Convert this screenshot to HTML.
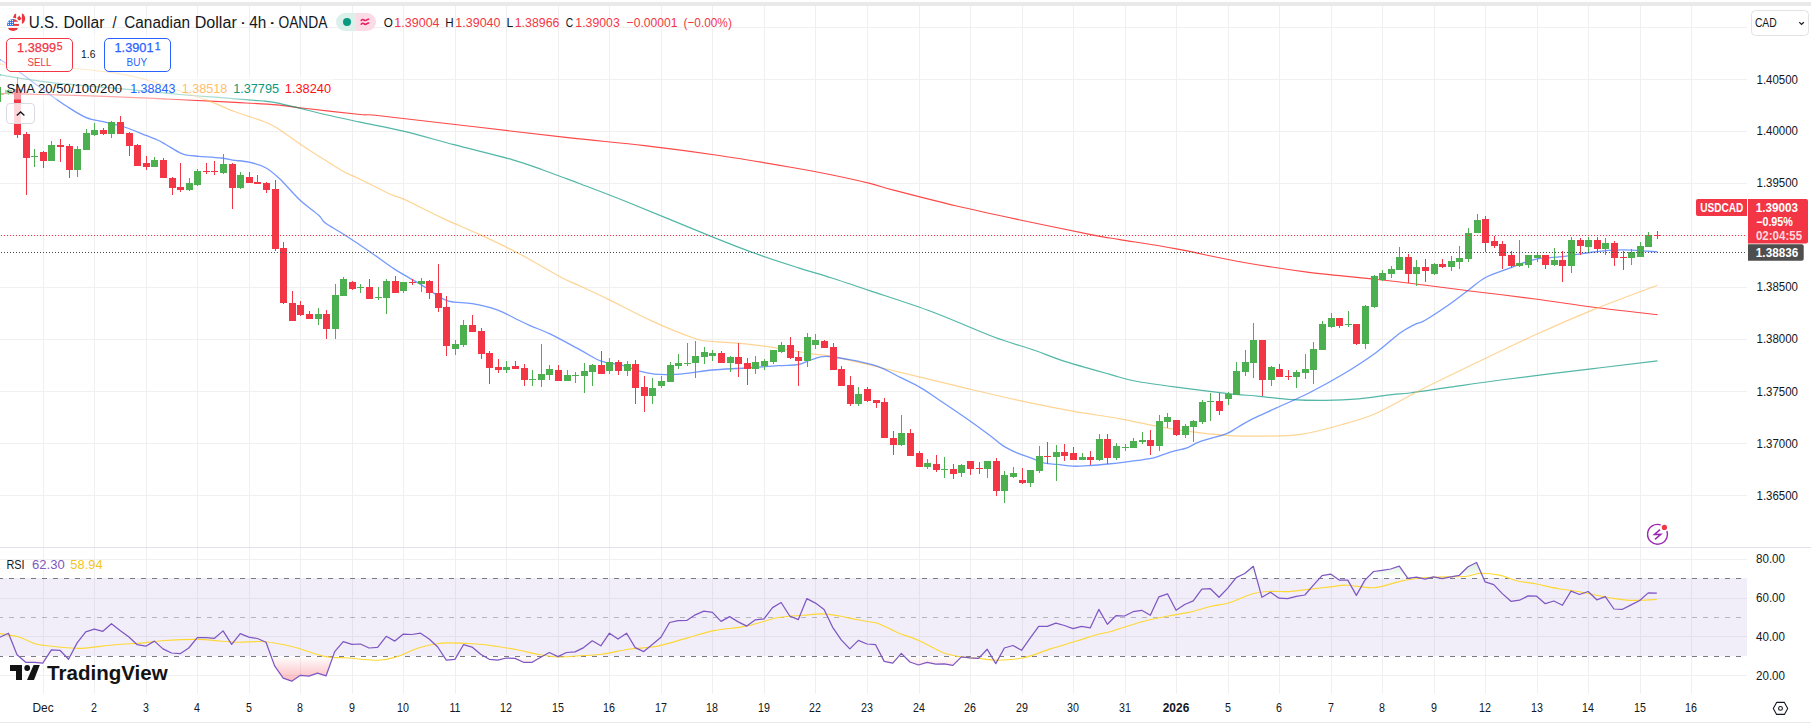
<!DOCTYPE html>
<html><head><meta charset="utf-8"><title>USDCAD</title>
<style>
html,body{margin:0;padding:0;background:#fff;}
body{width:1811px;height:724px;overflow:hidden;position:relative;font-family:"Liberation Sans",sans-serif;}
svg{position:absolute;left:0;top:0;}
</style></head><body>
<svg width="1811" height="724" viewBox="0 0 1811 724">
<rect x="0" y="0" width="1811" height="724" fill="#fff"/>
<rect x="0" y="2" width="1811" height="4" fill="#e9e9e9"/>
<g shape-rendering="crispEdges">
<rect x="43" y="6" width="1" height="541" fill="#f0f0f1"/>
<rect x="43" y="548" width="1" height="146" fill="#f0f0f1"/>
<rect x="94" y="6" width="1" height="541" fill="#f0f0f1"/>
<rect x="94" y="548" width="1" height="146" fill="#f0f0f1"/>
<rect x="146" y="6" width="1" height="541" fill="#f0f0f1"/>
<rect x="146" y="548" width="1" height="146" fill="#f0f0f1"/>
<rect x="197" y="6" width="1" height="541" fill="#f0f0f1"/>
<rect x="197" y="548" width="1" height="146" fill="#f0f0f1"/>
<rect x="249" y="6" width="1" height="541" fill="#f0f0f1"/>
<rect x="249" y="548" width="1" height="146" fill="#f0f0f1"/>
<rect x="300" y="6" width="1" height="541" fill="#f0f0f1"/>
<rect x="300" y="548" width="1" height="146" fill="#f0f0f1"/>
<rect x="352" y="6" width="1" height="541" fill="#f0f0f1"/>
<rect x="352" y="548" width="1" height="146" fill="#f0f0f1"/>
<rect x="403" y="6" width="1" height="541" fill="#f0f0f1"/>
<rect x="403" y="548" width="1" height="146" fill="#f0f0f1"/>
<rect x="455" y="6" width="1" height="541" fill="#f0f0f1"/>
<rect x="455" y="548" width="1" height="146" fill="#f0f0f1"/>
<rect x="506" y="6" width="1" height="541" fill="#f0f0f1"/>
<rect x="506" y="548" width="1" height="146" fill="#f0f0f1"/>
<rect x="558" y="6" width="1" height="541" fill="#f0f0f1"/>
<rect x="558" y="548" width="1" height="146" fill="#f0f0f1"/>
<rect x="609" y="6" width="1" height="541" fill="#f0f0f1"/>
<rect x="609" y="548" width="1" height="146" fill="#f0f0f1"/>
<rect x="661" y="6" width="1" height="541" fill="#f0f0f1"/>
<rect x="661" y="548" width="1" height="146" fill="#f0f0f1"/>
<rect x="712" y="6" width="1" height="541" fill="#f0f0f1"/>
<rect x="712" y="548" width="1" height="146" fill="#f0f0f1"/>
<rect x="764" y="6" width="1" height="541" fill="#f0f0f1"/>
<rect x="764" y="548" width="1" height="146" fill="#f0f0f1"/>
<rect x="815" y="6" width="1" height="541" fill="#f0f0f1"/>
<rect x="815" y="548" width="1" height="146" fill="#f0f0f1"/>
<rect x="867" y="6" width="1" height="541" fill="#f0f0f1"/>
<rect x="867" y="548" width="1" height="146" fill="#f0f0f1"/>
<rect x="919" y="6" width="1" height="541" fill="#f0f0f1"/>
<rect x="919" y="548" width="1" height="146" fill="#f0f0f1"/>
<rect x="970" y="6" width="1" height="541" fill="#f0f0f1"/>
<rect x="970" y="548" width="1" height="146" fill="#f0f0f1"/>
<rect x="1022" y="6" width="1" height="541" fill="#f0f0f1"/>
<rect x="1022" y="548" width="1" height="146" fill="#f0f0f1"/>
<rect x="1073" y="6" width="1" height="541" fill="#f0f0f1"/>
<rect x="1073" y="548" width="1" height="146" fill="#f0f0f1"/>
<rect x="1125" y="6" width="1" height="541" fill="#f0f0f1"/>
<rect x="1125" y="548" width="1" height="146" fill="#f0f0f1"/>
<rect x="1176" y="6" width="1" height="541" fill="#f0f0f1"/>
<rect x="1176" y="548" width="1" height="146" fill="#f0f0f1"/>
<rect x="1228" y="6" width="1" height="541" fill="#f0f0f1"/>
<rect x="1228" y="548" width="1" height="146" fill="#f0f0f1"/>
<rect x="1279" y="6" width="1" height="541" fill="#f0f0f1"/>
<rect x="1279" y="548" width="1" height="146" fill="#f0f0f1"/>
<rect x="1331" y="6" width="1" height="541" fill="#f0f0f1"/>
<rect x="1331" y="548" width="1" height="146" fill="#f0f0f1"/>
<rect x="1382" y="6" width="1" height="541" fill="#f0f0f1"/>
<rect x="1382" y="548" width="1" height="146" fill="#f0f0f1"/>
<rect x="1434" y="6" width="1" height="541" fill="#f0f0f1"/>
<rect x="1434" y="548" width="1" height="146" fill="#f0f0f1"/>
<rect x="1485" y="6" width="1" height="541" fill="#f0f0f1"/>
<rect x="1485" y="548" width="1" height="146" fill="#f0f0f1"/>
<rect x="1537" y="6" width="1" height="541" fill="#f0f0f1"/>
<rect x="1537" y="548" width="1" height="146" fill="#f0f0f1"/>
<rect x="1588" y="6" width="1" height="541" fill="#f0f0f1"/>
<rect x="1588" y="548" width="1" height="146" fill="#f0f0f1"/>
<rect x="1640" y="6" width="1" height="541" fill="#f0f0f1"/>
<rect x="1640" y="548" width="1" height="146" fill="#f0f0f1"/>
<rect x="1691" y="6" width="1" height="541" fill="#f0f0f1"/>
<rect x="1691" y="548" width="1" height="146" fill="#f0f0f1"/>
<rect x="0" y="27" width="1747" height="1" fill="#f0f0f1"/>
<rect x="0" y="79" width="1747" height="1" fill="#f0f0f1"/>
<rect x="0" y="131" width="1747" height="1" fill="#f0f0f1"/>
<rect x="0" y="183" width="1747" height="1" fill="#f0f0f1"/>
<rect x="0" y="235" width="1747" height="1" fill="#f0f0f1"/>
<rect x="0" y="287" width="1747" height="1" fill="#f0f0f1"/>
<rect x="0" y="339" width="1747" height="1" fill="#f0f0f1"/>
<rect x="0" y="391" width="1747" height="1" fill="#f0f0f1"/>
<rect x="0" y="443" width="1747" height="1" fill="#f0f0f1"/>
<rect x="0" y="495" width="1747" height="1" fill="#f0f0f1"/>
<rect x="0" y="559" width="1747" height="1" fill="#f0f0f1"/>
<rect x="0" y="598" width="1747" height="1" fill="#f0f0f1"/>
<rect x="0" y="636" width="1747" height="1" fill="#f0f0f1"/>
<rect x="0" y="675" width="1747" height="1" fill="#f0f0f1"/>
</g>
<rect x="0" y="547" width="1811" height="1" fill="#e0e3eb"/>
<rect x="0" y="722" width="1811" height="1" fill="#e9e9e9"/>
<rect x="0" y="578" width="1747" height="78" fill="#7e57c2" fill-opacity="0.1"/>
<defs><clipPath id="below30"><rect x="0" y="656.5" width="1747" height="60"/></clipPath><clipPath id="above70"><rect x="0" y="500" width="1747" height="78"/></clipPath><linearGradient id="gRed" x1="0" y1="656" x2="0" y2="714" gradientUnits="userSpaceOnUse"><stop offset="0" stop-color="#f23645" stop-opacity="0"/><stop offset="1" stop-color="#f23645" stop-opacity="0.8"/></linearGradient><linearGradient id="gGreen" x1="0" y1="578" x2="0" y2="520" gradientUnits="userSpaceOnUse"><stop offset="0" stop-color="#4caf50" stop-opacity="0"/><stop offset="1" stop-color="#4caf50" stop-opacity="0.8"/></linearGradient></defs>
<polygon points="-0.14,656.00 -0.14,637.20 8.45,633.20 17.03,654.80 25.62,662.30 34.20,662.30 42.79,663.20 51.37,649.80 59.96,650.30 68.54,659.30 77.13,642.90 85.72,631.80 94.30,629.10 102.89,631.30 111.47,623.70 120.06,630.40 128.64,636.80 137.23,644.70 145.81,646.20 154.40,641.10 162.98,648.90 171.57,653.00 180.16,653.70 188.74,648.00 197.33,637.60 205.91,637.70 214.50,638.30 223.08,630.90 231.67,644.40 240.25,633.60 248.84,637.20 257.42,638.50 266.01,642.20 274.60,665.90 283.18,678.10 291.77,681.20 300.35,675.30 308.94,676.20 317.52,673.10 326.11,675.80 334.69,651.60 343.28,641.70 351.86,644.40 360.45,644.00 369.04,648.00 377.62,647.40 386.21,636.30 394.79,641.10 403.38,634.10 411.96,634.50 420.55,633.20 429.13,639.00 437.72,647.00 446.31,660.20 454.89,659.40 463.48,644.70 472.06,647.10 480.65,654.30 489.23,659.30 497.82,660.20 506.40,658.00 514.99,658.40 523.57,662.30 532.16,662.30 540.75,657.30 549.33,652.50 557.92,656.60 566.50,652.50 575.09,651.90 583.67,647.60 592.26,640.80 600.84,645.80 609.43,633.20 618.01,639.00 626.60,633.20 635.19,647.60 643.77,651.60 652.36,644.40 660.94,637.20 669.53,622.50 678.11,620.70 686.70,620.50 695.28,614.80 703.87,611.20 712.45,612.40 721.04,621.40 729.63,616.60 738.21,621.90 746.80,626.10 755.38,619.80 763.97,618.90 772.55,607.60 781.14,602.50 789.72,616.00 798.31,619.60 806.89,598.60 815.48,603.10 824.07,609.40 832.65,627.30 841.24,639.90 849.82,648.90 858.41,640.40 866.99,644.00 875.58,644.70 884.16,661.40 892.75,663.20 901.34,653.40 909.92,662.00 918.51,665.00 927.09,662.30 935.68,664.10 944.26,663.80 952.85,665.40 961.43,656.90 970.02,657.80 978.60,658.40 987.19,649.20 995.78,663.60 1004.36,648.00 1012.95,645.50 1021.53,650.30 1030.12,638.10 1038.70,626.40 1047.29,626.40 1055.87,623.20 1064.46,625.50 1073.04,628.60 1081.63,626.40 1090.22,627.90 1098.80,609.40 1107.39,624.30 1115.97,615.70 1124.56,616.00 1133.14,611.70 1141.73,610.30 1150.31,615.30 1158.90,596.80 1167.48,593.80 1176.07,610.30 1184.66,604.50 1193.24,600.90 1201.83,589.10 1210.41,588.70 1219.00,597.30 1227.58,588.40 1236.17,577.60 1244.75,573.50 1253.34,566.30 1261.92,597.30 1270.51,592.30 1279.10,598.20 1287.68,598.60 1296.27,596.30 1304.85,595.00 1313.44,585.10 1322.02,575.60 1330.61,574.10 1339.19,580.10 1347.78,580.10 1356.36,595.40 1364.95,580.10 1373.54,571.50 1382.12,570.30 1390.71,569.00 1399.29,566.10 1407.88,578.30 1416.46,577.10 1425.05,579.20 1433.63,576.90 1442.22,578.70 1450.81,576.90 1459.39,575.30 1467.98,566.70 1476.56,562.50 1485.15,581.90 1493.73,584.60 1502.32,593.60 1510.90,601.30 1519.49,600.20 1528.07,595.90 1536.66,596.20 1545.25,603.70 1553.83,601.00 1562.42,605.30 1571.00,591.10 1579.59,594.50 1588.17,591.50 1596.76,599.80 1605.34,596.60 1613.93,609.00 1622.51,609.30 1631.10,604.90 1639.69,600.50 1648.27,592.90 1656.86,593.20 1656.86,656.00" fill="url(#gRed)" clip-path="url(#below30)"/>
<polygon points="-0.14,578.50 -0.14,637.20 8.45,633.20 17.03,654.80 25.62,662.30 34.20,662.30 42.79,663.20 51.37,649.80 59.96,650.30 68.54,659.30 77.13,642.90 85.72,631.80 94.30,629.10 102.89,631.30 111.47,623.70 120.06,630.40 128.64,636.80 137.23,644.70 145.81,646.20 154.40,641.10 162.98,648.90 171.57,653.00 180.16,653.70 188.74,648.00 197.33,637.60 205.91,637.70 214.50,638.30 223.08,630.90 231.67,644.40 240.25,633.60 248.84,637.20 257.42,638.50 266.01,642.20 274.60,665.90 283.18,678.10 291.77,681.20 300.35,675.30 308.94,676.20 317.52,673.10 326.11,675.80 334.69,651.60 343.28,641.70 351.86,644.40 360.45,644.00 369.04,648.00 377.62,647.40 386.21,636.30 394.79,641.10 403.38,634.10 411.96,634.50 420.55,633.20 429.13,639.00 437.72,647.00 446.31,660.20 454.89,659.40 463.48,644.70 472.06,647.10 480.65,654.30 489.23,659.30 497.82,660.20 506.40,658.00 514.99,658.40 523.57,662.30 532.16,662.30 540.75,657.30 549.33,652.50 557.92,656.60 566.50,652.50 575.09,651.90 583.67,647.60 592.26,640.80 600.84,645.80 609.43,633.20 618.01,639.00 626.60,633.20 635.19,647.60 643.77,651.60 652.36,644.40 660.94,637.20 669.53,622.50 678.11,620.70 686.70,620.50 695.28,614.80 703.87,611.20 712.45,612.40 721.04,621.40 729.63,616.60 738.21,621.90 746.80,626.10 755.38,619.80 763.97,618.90 772.55,607.60 781.14,602.50 789.72,616.00 798.31,619.60 806.89,598.60 815.48,603.10 824.07,609.40 832.65,627.30 841.24,639.90 849.82,648.90 858.41,640.40 866.99,644.00 875.58,644.70 884.16,661.40 892.75,663.20 901.34,653.40 909.92,662.00 918.51,665.00 927.09,662.30 935.68,664.10 944.26,663.80 952.85,665.40 961.43,656.90 970.02,657.80 978.60,658.40 987.19,649.20 995.78,663.60 1004.36,648.00 1012.95,645.50 1021.53,650.30 1030.12,638.10 1038.70,626.40 1047.29,626.40 1055.87,623.20 1064.46,625.50 1073.04,628.60 1081.63,626.40 1090.22,627.90 1098.80,609.40 1107.39,624.30 1115.97,615.70 1124.56,616.00 1133.14,611.70 1141.73,610.30 1150.31,615.30 1158.90,596.80 1167.48,593.80 1176.07,610.30 1184.66,604.50 1193.24,600.90 1201.83,589.10 1210.41,588.70 1219.00,597.30 1227.58,588.40 1236.17,577.60 1244.75,573.50 1253.34,566.30 1261.92,597.30 1270.51,592.30 1279.10,598.20 1287.68,598.60 1296.27,596.30 1304.85,595.00 1313.44,585.10 1322.02,575.60 1330.61,574.10 1339.19,580.10 1347.78,580.10 1356.36,595.40 1364.95,580.10 1373.54,571.50 1382.12,570.30 1390.71,569.00 1399.29,566.10 1407.88,578.30 1416.46,577.10 1425.05,579.20 1433.63,576.90 1442.22,578.70 1450.81,576.90 1459.39,575.30 1467.98,566.70 1476.56,562.50 1485.15,581.90 1493.73,584.60 1502.32,593.60 1510.90,601.30 1519.49,600.20 1528.07,595.90 1536.66,596.20 1545.25,603.70 1553.83,601.00 1562.42,605.30 1571.00,591.10 1579.59,594.50 1588.17,591.50 1596.76,599.80 1605.34,596.60 1613.93,609.00 1622.51,609.30 1631.10,604.90 1639.69,600.50 1648.27,592.90 1656.86,593.20 1656.86,578.50" fill="url(#gGreen)" clip-path="url(#above70)"/>
<line x1="0" y1="578.5" x2="1747" y2="578.5" stroke="#787b86" stroke-width="1" stroke-dasharray="5 6" stroke-dashoffset="2"/>
<line x1="0" y1="617.5" x2="1747" y2="617.5" stroke="#787b86" stroke-opacity="0.5" stroke-width="1" stroke-dasharray="5 6" stroke-dashoffset="2"/>
<line x1="0" y1="656.5" x2="1747" y2="656.5" stroke="#787b86" stroke-width="1" stroke-dasharray="5 6" stroke-dashoffset="2"/>
<path d="M0.00 633.60 C3.00 634.13 12.02 635.07 18.00 636.80 C23.98 638.53 29.92 642.38 35.90 644.00 C41.88 645.62 47.32 645.78 53.90 646.50 C60.48 647.22 69.42 648.12 75.40 648.30 C81.38 648.48 83.22 648.20 89.80 647.60 C96.38 647.00 105.93 645.48 114.90 644.70 C123.87 643.92 135.82 643.55 143.60 642.90 C151.38 642.25 152.62 641.38 161.60 640.80 C170.58 640.22 187.77 639.37 197.50 639.40 C207.23 639.43 213.25 640.53 220.00 641.00 C226.75 641.47 230.52 642.08 238.00 642.20 C245.48 642.32 255.93 640.98 264.90 641.70 C273.87 642.42 281.63 644.02 291.80 646.50 C301.97 648.98 316.92 654.72 325.90 656.60 C334.88 658.48 337.02 657.20 345.70 657.80 C354.38 658.40 369.62 660.33 378.00 660.20 C386.38 660.07 389.42 658.98 396.00 657.00 C402.58 655.02 410.93 650.47 417.50 648.30 C424.07 646.13 430.45 644.90 435.40 644.00 C440.35 643.10 440.45 642.90 447.20 642.90 C453.95 642.90 467.52 643.40 475.90 644.00 C484.28 644.60 490.62 645.53 497.50 646.50 C504.38 647.47 510.03 648.42 517.20 649.80 C524.37 651.18 533.62 653.60 540.50 654.80 C547.38 656.00 551.32 656.88 558.50 657.00 C565.68 657.12 576.42 655.95 583.60 655.50 C590.78 655.05 594.12 655.35 601.60 654.30 C609.08 653.25 621.02 650.32 628.50 649.20 C635.98 648.08 641.25 648.20 646.50 647.60 C651.75 647.00 653.27 647.18 660.00 645.60 C666.73 644.02 677.92 640.60 686.90 638.10 C695.88 635.60 704.02 632.60 713.90 630.60 C723.78 628.60 735.43 628.28 746.20 626.10 C756.97 623.92 768.93 619.30 778.50 617.50 C788.07 615.70 796.42 615.90 803.60 615.30 C810.78 614.70 815.62 613.78 821.60 613.90 C827.58 614.02 833.52 615.02 839.50 616.00 C845.48 616.98 851.52 618.67 857.50 619.80 C863.48 620.93 871.65 622.05 875.40 622.80 C879.15 623.55 876.23 622.65 880.00 624.30 C883.77 625.95 891.42 629.95 898.00 632.70 C904.58 635.45 912.03 637.50 919.50 640.80 C926.97 644.10 935.92 649.82 942.80 652.50 C949.68 655.18 954.82 655.92 960.80 656.90 C966.78 657.88 972.72 657.85 978.70 658.40 C984.68 658.95 989.22 660.30 996.70 660.20 C1004.18 660.10 1014.62 659.68 1023.60 657.80 C1032.58 655.92 1041.62 651.73 1050.60 648.90 C1059.58 646.07 1070.03 643.12 1077.50 640.80 C1084.97 638.48 1089.98 636.50 1095.40 635.00 C1100.82 633.50 1106.23 632.78 1110.00 631.80 C1113.77 630.82 1112.18 630.90 1118.00 629.10 C1123.82 627.30 1136.53 623.18 1144.90 621.00 C1153.27 618.82 1160.72 617.48 1168.20 616.00 C1175.68 614.52 1182.62 613.72 1189.80 612.10 C1196.98 610.48 1204.72 607.87 1211.30 606.30 C1217.88 604.73 1222.42 604.78 1229.30 602.70 C1236.18 600.62 1245.72 595.68 1252.60 593.80 C1259.48 591.92 1264.62 591.77 1270.60 591.40 C1276.58 591.03 1282.52 591.90 1288.50 591.60 C1294.48 591.30 1299.58 590.38 1306.50 589.60 C1313.42 588.82 1323.27 587.63 1330.00 586.90 C1336.73 586.17 1339.58 585.07 1346.90 585.20 C1354.22 585.33 1365.22 588.30 1373.90 587.70 C1382.58 587.10 1391.23 583.22 1399.00 581.60 C1406.77 579.98 1412.72 578.78 1420.50 578.00 C1428.28 577.22 1437.92 577.20 1445.70 576.90 C1453.48 576.60 1461.52 576.80 1467.20 576.20 C1472.88 575.60 1474.42 573.48 1479.80 573.30 C1485.18 573.12 1493.22 573.82 1499.50 575.10 C1505.78 576.38 1511.52 579.57 1517.50 581.00 C1523.48 582.43 1531.02 582.93 1535.40 583.70 C1539.78 584.47 1539.63 584.72 1543.80 585.60 C1547.97 586.48 1554.65 588.02 1560.40 589.00 C1566.15 589.98 1572.32 590.47 1578.30 591.50 C1584.28 592.53 1590.53 594.05 1596.30 595.20 C1602.07 596.35 1607.83 597.58 1612.90 598.40 C1617.97 599.22 1622.10 599.78 1626.70 600.10 C1631.30 600.42 1635.48 600.40 1640.50 600.30 C1645.52 600.20 1654.08 599.63 1656.80 599.50" fill="none" stroke="#fdd835" stroke-width="1.15"/>
<polyline points="-0.14,637.20 8.45,633.20 17.03,654.80 25.62,662.30 34.20,662.30 42.79,663.20 51.37,649.80 59.96,650.30 68.54,659.30 77.13,642.90 85.72,631.80 94.30,629.10 102.89,631.30 111.47,623.70 120.06,630.40 128.64,636.80 137.23,644.70 145.81,646.20 154.40,641.10 162.98,648.90 171.57,653.00 180.16,653.70 188.74,648.00 197.33,637.60 205.91,637.70 214.50,638.30 223.08,630.90 231.67,644.40 240.25,633.60 248.84,637.20 257.42,638.50 266.01,642.20 274.60,665.90 283.18,678.10 291.77,681.20 300.35,675.30 308.94,676.20 317.52,673.10 326.11,675.80 334.69,651.60 343.28,641.70 351.86,644.40 360.45,644.00 369.04,648.00 377.62,647.40 386.21,636.30 394.79,641.10 403.38,634.10 411.96,634.50 420.55,633.20 429.13,639.00 437.72,647.00 446.31,660.20 454.89,659.40 463.48,644.70 472.06,647.10 480.65,654.30 489.23,659.30 497.82,660.20 506.40,658.00 514.99,658.40 523.57,662.30 532.16,662.30 540.75,657.30 549.33,652.50 557.92,656.60 566.50,652.50 575.09,651.90 583.67,647.60 592.26,640.80 600.84,645.80 609.43,633.20 618.01,639.00 626.60,633.20 635.19,647.60 643.77,651.60 652.36,644.40 660.94,637.20 669.53,622.50 678.11,620.70 686.70,620.50 695.28,614.80 703.87,611.20 712.45,612.40 721.04,621.40 729.63,616.60 738.21,621.90 746.80,626.10 755.38,619.80 763.97,618.90 772.55,607.60 781.14,602.50 789.72,616.00 798.31,619.60 806.89,598.60 815.48,603.10 824.07,609.40 832.65,627.30 841.24,639.90 849.82,648.90 858.41,640.40 866.99,644.00 875.58,644.70 884.16,661.40 892.75,663.20 901.34,653.40 909.92,662.00 918.51,665.00 927.09,662.30 935.68,664.10 944.26,663.80 952.85,665.40 961.43,656.90 970.02,657.80 978.60,658.40 987.19,649.20 995.78,663.60 1004.36,648.00 1012.95,645.50 1021.53,650.30 1030.12,638.10 1038.70,626.40 1047.29,626.40 1055.87,623.20 1064.46,625.50 1073.04,628.60 1081.63,626.40 1090.22,627.90 1098.80,609.40 1107.39,624.30 1115.97,615.70 1124.56,616.00 1133.14,611.70 1141.73,610.30 1150.31,615.30 1158.90,596.80 1167.48,593.80 1176.07,610.30 1184.66,604.50 1193.24,600.90 1201.83,589.10 1210.41,588.70 1219.00,597.30 1227.58,588.40 1236.17,577.60 1244.75,573.50 1253.34,566.30 1261.92,597.30 1270.51,592.30 1279.10,598.20 1287.68,598.60 1296.27,596.30 1304.85,595.00 1313.44,585.10 1322.02,575.60 1330.61,574.10 1339.19,580.10 1347.78,580.10 1356.36,595.40 1364.95,580.10 1373.54,571.50 1382.12,570.30 1390.71,569.00 1399.29,566.10 1407.88,578.30 1416.46,577.10 1425.05,579.20 1433.63,576.90 1442.22,578.70 1450.81,576.90 1459.39,575.30 1467.98,566.70 1476.56,562.50 1485.15,581.90 1493.73,584.60 1502.32,593.60 1510.90,601.30 1519.49,600.20 1528.07,595.90 1536.66,596.20 1545.25,603.70 1553.83,601.00 1562.42,605.30 1571.00,591.10 1579.59,594.50 1588.17,591.50 1596.76,599.80 1605.34,596.60 1613.93,609.00 1622.51,609.30 1631.10,604.90 1639.69,600.50 1648.27,592.90 1656.86,593.20" fill="none" stroke="#7e57c2" stroke-width="1.25" stroke-linejoin="round"/>
<path d="M0.00 93.40 C13.82 93.77 55.27 94.68 82.90 95.60 C110.53 96.52 140.42 97.77 165.80 98.90 C191.18 100.03 216.72 101.40 235.20 102.40 C253.68 103.40 265.18 103.92 276.70 104.90 C288.22 105.88 290.42 106.70 304.30 108.30 C318.18 109.90 347.47 113.27 360.00 114.50 C372.53 115.73 359.68 113.57 379.50 115.70 C399.32 117.83 447.15 123.60 478.90 127.30 C510.65 131.00 542.38 134.85 570.00 137.90 C597.62 140.95 619.75 142.67 644.60 145.60 C669.45 148.53 694.25 151.82 719.10 155.50 C743.95 159.18 775.05 164.50 793.70 167.70 C812.35 170.90 818.28 172.08 831.00 174.70 C843.72 177.32 859.40 180.78 870.00 183.40 C880.60 186.02 880.15 186.63 894.60 190.40 C909.05 194.17 935.98 201.12 956.70 206.00 C977.42 210.88 996.12 214.85 1018.90 219.70 C1041.68 224.55 1076.55 231.78 1093.40 235.10 C1110.25 238.42 1106.18 237.30 1120.00 239.60 C1133.82 241.90 1155.87 245.13 1176.30 248.90 C1196.73 252.67 1220.50 258.28 1242.60 262.20 C1264.70 266.12 1286.80 269.57 1308.90 272.40 C1331.00 275.23 1358.35 277.40 1375.20 279.20 C1392.05 281.00 1394.58 281.28 1410.00 283.20 C1425.42 285.12 1446.80 288.07 1467.70 290.70 C1488.60 293.33 1514.45 296.23 1535.40 299.00 C1556.35 301.77 1573.05 304.70 1593.40 307.30 C1613.75 309.90 1646.82 313.38 1657.50 314.60" fill="none" stroke="#ff1a1a" stroke-opacity="0.8" stroke-width="1.1"/>
<path d="M0.00 74.90 C8.28 76.13 27.60 79.82 49.70 82.30 C71.80 84.78 110.88 87.77 132.60 89.80 C154.32 91.83 165.20 93.18 180.00 94.50 C194.80 95.82 207.58 96.62 221.40 97.70 C235.22 98.78 253.68 100.15 262.90 101.00 C272.12 101.85 270.95 101.70 276.70 102.80 C282.45 103.90 289.35 105.65 297.40 107.60 C305.45 109.55 314.57 112.08 325.00 114.50 C335.43 116.92 346.78 119.28 360.00 122.10 C373.22 124.92 388.63 127.63 404.30 131.40 C419.97 135.17 436.05 140.00 454.00 144.70 C471.95 149.40 497.18 155.38 512.00 159.60 C526.82 163.82 534.60 167.10 542.90 170.00 C551.20 172.90 555.62 174.72 561.80 177.00 C567.98 179.28 569.10 179.53 580.00 183.70 C590.90 187.87 605.67 193.35 627.20 202.00 C648.73 210.65 688.07 227.10 709.20 235.60 C730.33 244.10 739.08 247.62 754.00 253.00 C768.92 258.38 785.87 263.77 798.70 267.90 C811.53 272.03 819.17 274.02 831.00 277.80 C842.83 281.58 852.88 284.95 869.70 290.60 C886.52 296.25 911.18 303.97 931.90 311.70 C952.62 319.43 977.02 330.62 994.00 337.00 C1010.98 343.38 1022.40 346.07 1033.80 350.00 C1045.20 353.93 1049.70 356.53 1062.40 360.60 C1075.10 364.67 1097.92 371.00 1110.00 374.40 C1122.08 377.80 1123.85 378.87 1134.90 381.00 C1145.95 383.13 1161.12 385.15 1176.30 387.20 C1191.48 389.25 1212.18 391.78 1226.00 393.30 C1239.82 394.82 1248.15 395.25 1259.20 396.30 C1270.25 397.35 1281.25 398.92 1292.30 399.60 C1303.35 400.28 1314.45 400.53 1325.50 400.40 C1336.55 400.27 1347.55 399.77 1358.60 398.80 C1369.65 397.83 1383.23 395.57 1391.80 394.60 C1400.37 393.63 1400.30 394.23 1410.00 393.00 C1419.70 391.77 1434.90 389.37 1450.00 387.20 C1465.10 385.03 1476.70 383.10 1500.60 380.00 C1524.50 376.90 1567.25 371.80 1593.40 368.60 C1619.55 365.40 1646.82 362.10 1657.50 360.80" fill="none" stroke="#089981" stroke-opacity="0.7" stroke-width="1.2"/>
<path d="M0.00 64.00 C12.15 64.75 53.57 66.97 72.90 68.50 C92.23 70.03 103.28 71.17 116.00 73.20 C128.72 75.23 138.53 77.73 149.20 80.70 C159.87 83.67 170.27 87.72 180.00 91.00 C189.73 94.28 198.40 96.93 207.60 100.40 C216.80 103.87 225.98 108.33 235.20 111.80 C244.42 115.27 255.98 118.55 262.90 121.20 C269.82 123.85 270.27 123.75 276.70 127.70 C283.13 131.65 293.45 139.50 301.50 144.90 C309.55 150.30 318.08 155.72 325.00 160.10 C331.92 164.48 337.17 168.02 343.00 171.20 C348.83 174.38 352.10 175.35 360.00 179.20 C367.90 183.05 383.02 190.93 390.40 194.30 C397.78 197.67 395.45 195.35 404.30 199.40 C413.15 203.45 431.08 212.82 443.50 218.60 C455.92 224.38 466.65 228.50 478.80 234.10 C490.95 239.70 505.35 246.50 516.40 252.20 C527.45 257.90 536.75 263.67 545.10 268.30 C553.45 272.93 560.68 277.05 566.50 280.00 C572.32 282.95 573.10 282.82 580.00 286.00 C586.90 289.18 595.78 293.20 607.90 299.10 C620.02 305.00 638.05 314.78 652.70 321.40 C667.35 328.02 685.87 335.48 695.80 338.80 C705.73 342.12 704.02 340.47 712.30 341.30 C720.58 342.13 734.45 342.63 745.50 343.80 C756.55 344.97 767.55 346.63 778.60 348.30 C789.65 349.97 803.23 352.48 811.80 353.80 C820.37 355.12 819.65 354.17 830.00 356.20 C840.35 358.23 851.63 360.77 873.90 366.00 C896.17 371.23 939.67 381.92 963.60 387.60 C987.53 393.28 999.55 396.22 1017.50 400.10 C1035.45 403.98 1054.22 407.78 1071.30 410.90 C1088.38 414.02 1105.27 416.15 1120.00 418.80 C1134.73 421.45 1147.55 424.62 1159.70 426.80 C1171.85 428.98 1181.85 430.48 1192.90 431.90 C1203.95 433.32 1214.95 434.60 1226.00 435.30 C1237.05 436.00 1246.77 436.25 1259.20 436.10 C1271.63 435.95 1286.78 436.33 1300.60 434.40 C1314.42 432.47 1329.67 427.95 1342.10 424.50 C1354.53 421.05 1363.88 418.53 1375.20 413.70 C1386.52 408.87 1399.10 401.12 1410.00 395.50 C1420.90 389.88 1419.70 390.12 1440.60 380.00 C1461.50 369.88 1509.93 346.53 1535.40 334.80 C1560.87 323.07 1573.05 317.87 1593.40 309.60 C1613.75 301.33 1646.82 289.27 1657.50 285.20" fill="none" stroke="#ffb74d" stroke-opacity="0.6" stroke-width="1.2"/>
<path d="M0.00 59.50 C2.77 61.25 8.87 64.58 16.60 70.00 C24.33 75.42 38.12 86.00 46.40 92.00 C54.68 98.00 59.67 101.73 66.30 106.00 C72.93 110.27 79.58 114.87 86.20 117.60 C92.82 120.33 99.37 120.75 106.00 122.40 C112.63 124.05 119.35 125.33 126.00 127.50 C132.65 129.67 140.65 133.32 145.90 135.40 C151.15 137.48 154.18 138.48 157.50 140.00 C160.82 141.52 161.93 142.30 165.80 144.50 C169.67 146.70 176.95 151.40 180.70 153.20 C184.45 155.00 185.27 154.78 188.30 155.30 C191.33 155.82 193.38 155.85 198.90 156.30 C204.42 156.75 215.80 157.37 221.40 158.00 C227.00 158.63 227.88 159.40 232.50 160.10 C237.12 160.80 243.58 160.93 249.10 162.20 C254.62 163.47 260.55 164.98 265.60 167.70 C270.65 170.42 273.68 173.12 279.40 178.50 C285.12 183.88 293.35 193.87 299.90 200.00 C306.45 206.13 314.47 211.47 318.70 215.30 C322.93 219.13 321.08 219.80 325.30 223.00 C329.52 226.20 336.45 229.63 344.00 234.50 C351.55 239.37 362.12 246.38 370.60 252.20 C379.08 258.02 386.43 263.95 394.90 269.40 C403.37 274.85 413.30 279.93 421.40 284.90 C429.50 289.87 437.98 296.33 443.50 299.20 C449.02 302.07 449.72 301.37 454.50 302.10 C459.28 302.83 465.20 302.35 472.20 303.60 C479.20 304.85 489.50 307.20 496.50 309.60 C503.50 312.00 508.62 315.33 514.20 318.00 C519.78 320.67 524.05 322.95 530.00 325.60 C535.95 328.25 541.62 329.90 549.90 333.90 C558.18 337.90 571.13 345.05 579.70 349.60 C588.27 354.15 594.12 358.57 601.30 361.20 C608.48 363.83 616.45 363.73 622.80 365.40 C629.15 367.07 634.15 369.75 639.40 371.20 C644.65 372.65 648.78 373.55 654.30 374.10 C659.82 374.65 666.70 374.65 672.50 374.50 C678.30 374.35 682.47 373.95 689.10 373.20 C695.73 372.45 702.90 370.87 712.30 370.00 C721.70 369.13 734.45 368.72 745.50 368.00 C756.55 367.28 769.77 366.28 778.60 365.70 C787.43 365.12 792.97 365.52 798.50 364.50 C804.03 363.48 806.72 360.93 811.80 359.60 C816.88 358.27 818.65 355.58 829.00 356.50 C839.35 357.42 861.93 361.57 873.90 365.10 C885.87 368.63 893.03 373.95 900.80 377.70 C908.57 381.45 914.52 384.17 920.50 387.60 C926.48 391.03 928.92 393.07 936.70 398.30 C944.48 403.53 958.22 412.72 967.20 419.00 C976.18 425.28 984.62 431.52 990.60 436.00 C996.58 440.48 998.62 443.05 1003.10 445.90 C1007.58 448.75 1013.00 451.15 1017.50 453.10 C1022.00 455.05 1025.60 455.93 1030.10 457.60 C1034.60 459.27 1039.90 461.97 1044.50 463.10 C1049.10 464.23 1052.92 463.88 1057.70 464.40 C1062.48 464.92 1067.67 466.02 1073.20 466.20 C1078.73 466.38 1085.10 465.87 1090.90 465.50 C1096.70 465.13 1102.33 464.57 1108.00 464.00 C1113.67 463.43 1117.93 463.00 1124.90 462.10 C1131.87 461.20 1144.00 459.63 1149.80 458.60 C1155.60 457.57 1155.57 457.18 1159.70 455.90 C1163.83 454.62 1170.03 452.25 1174.60 450.90 C1179.17 449.55 1182.87 449.35 1187.10 447.80 C1191.33 446.25 1193.52 443.92 1200.00 441.60 C1206.48 439.28 1219.70 436.30 1226.00 433.90 C1232.30 431.50 1233.30 429.75 1237.80 427.20 C1242.30 424.65 1246.67 421.77 1253.00 418.60 C1259.33 415.43 1266.48 412.47 1275.80 408.20 C1285.12 403.93 1297.85 398.57 1308.90 393.00 C1319.95 387.43 1331.05 381.43 1342.10 374.80 C1353.15 368.17 1365.53 360.17 1375.20 353.20 C1384.87 346.23 1393.38 337.85 1400.10 333.00 C1406.82 328.15 1411.33 326.22 1415.50 324.10 C1419.67 321.98 1419.30 323.68 1425.10 320.30 C1430.90 316.92 1443.20 308.73 1450.30 303.80 C1457.40 298.87 1461.90 295.05 1467.70 290.70 C1473.50 286.35 1478.33 281.38 1485.10 277.70 C1491.87 274.02 1499.92 271.67 1508.30 268.60 C1516.68 265.53 1526.05 261.33 1535.40 259.30 C1544.75 257.27 1554.73 257.62 1564.40 256.40 C1574.07 255.18 1585.33 253.05 1593.40 252.00 C1601.47 250.95 1606.35 250.42 1612.80 250.10 C1619.25 249.78 1624.65 249.80 1632.10 250.10 C1639.55 250.40 1653.27 251.60 1657.50 251.90" fill="none" stroke="#2962ff" stroke-opacity="0.65" stroke-width="1.3"/>
<g shape-rendering="crispEdges">
<rect x="0" y="87" width="1" height="15" fill="#4caf50"/>
<rect x="-3" y="94" width="7" height="1" fill="#4caf50"/>
<rect x="8" y="89" width="1" height="6" fill="#4caf50"/>
<rect x="5" y="90" width="7" height="4" fill="#4caf50"/>
<rect x="17" y="77" width="1" height="61" fill="#f23645"/>
<rect x="14" y="89" width="7" height="46" fill="#f23645"/>
<rect x="26" y="132" width="1" height="63" fill="#f23645"/>
<rect x="23" y="134" width="7" height="24" fill="#f23645"/>
<rect x="34" y="149" width="1" height="18" fill="#4caf50"/>
<rect x="31" y="156" width="7" height="1" fill="#4caf50"/>
<rect x="43" y="151" width="1" height="17" fill="#f23645"/>
<rect x="40" y="152" width="7" height="9" fill="#f23645"/>
<rect x="51" y="141" width="1" height="20" fill="#4caf50"/>
<rect x="48" y="145" width="7" height="16" fill="#4caf50"/>
<rect x="60" y="139" width="1" height="23" fill="#f23645"/>
<rect x="57" y="145" width="7" height="2" fill="#f23645"/>
<rect x="69" y="144" width="1" height="34" fill="#f23645"/>
<rect x="66" y="146" width="7" height="24" fill="#f23645"/>
<rect x="77" y="146" width="1" height="31" fill="#4caf50"/>
<rect x="74" y="149" width="7" height="21" fill="#4caf50"/>
<rect x="86" y="129" width="1" height="21" fill="#4caf50"/>
<rect x="83" y="133" width="7" height="17" fill="#4caf50"/>
<rect x="94" y="123" width="1" height="13" fill="#4caf50"/>
<rect x="91" y="130" width="7" height="5" fill="#4caf50"/>
<rect x="103" y="128" width="1" height="7" fill="#f23645"/>
<rect x="100" y="130" width="7" height="4" fill="#f23645"/>
<rect x="111" y="121" width="1" height="17" fill="#4caf50"/>
<rect x="108" y="122" width="7" height="12" fill="#4caf50"/>
<rect x="120" y="116" width="1" height="18" fill="#f23645"/>
<rect x="117" y="122" width="7" height="12" fill="#f23645"/>
<rect x="129" y="132" width="1" height="24" fill="#f23645"/>
<rect x="126" y="133" width="7" height="13" fill="#f23645"/>
<rect x="137" y="144" width="1" height="22" fill="#f23645"/>
<rect x="134" y="145" width="7" height="21" fill="#f23645"/>
<rect x="146" y="156" width="1" height="14" fill="#f23645"/>
<rect x="143" y="163" width="7" height="4" fill="#f23645"/>
<rect x="154" y="157" width="1" height="10" fill="#4caf50"/>
<rect x="151" y="160" width="7" height="7" fill="#4caf50"/>
<rect x="163" y="158" width="1" height="20" fill="#f23645"/>
<rect x="160" y="160" width="7" height="18" fill="#f23645"/>
<rect x="172" y="177" width="1" height="18" fill="#f23645"/>
<rect x="169" y="178" width="7" height="10" fill="#f23645"/>
<rect x="180" y="163" width="1" height="29" fill="#f23645"/>
<rect x="177" y="187" width="7" height="3" fill="#f23645"/>
<rect x="189" y="178" width="1" height="13" fill="#4caf50"/>
<rect x="186" y="183" width="7" height="7" fill="#4caf50"/>
<rect x="197" y="169" width="1" height="17" fill="#4caf50"/>
<rect x="194" y="171" width="7" height="14" fill="#4caf50"/>
<rect x="206" y="163" width="1" height="11" fill="#f23645"/>
<rect x="203" y="171" width="7" height="1" fill="#f23645"/>
<rect x="214" y="161" width="1" height="14" fill="#f23645"/>
<rect x="211" y="171" width="7" height="1" fill="#f23645"/>
<rect x="223" y="154" width="1" height="20" fill="#4caf50"/>
<rect x="220" y="164" width="7" height="9" fill="#4caf50"/>
<rect x="232" y="163" width="1" height="46" fill="#f23645"/>
<rect x="229" y="164" width="7" height="24" fill="#f23645"/>
<rect x="240" y="172" width="1" height="17" fill="#4caf50"/>
<rect x="237" y="175" width="7" height="13" fill="#4caf50"/>
<rect x="249" y="172" width="1" height="11" fill="#f23645"/>
<rect x="246" y="177" width="7" height="6" fill="#f23645"/>
<rect x="257" y="175" width="1" height="9" fill="#f23645"/>
<rect x="254" y="182" width="7" height="2" fill="#f23645"/>
<rect x="266" y="182" width="1" height="11" fill="#f23645"/>
<rect x="263" y="183" width="7" height="7" fill="#f23645"/>
<rect x="275" y="180" width="1" height="71" fill="#f23645"/>
<rect x="272" y="189" width="7" height="60" fill="#f23645"/>
<rect x="283" y="242" width="1" height="62" fill="#f23645"/>
<rect x="280" y="248" width="7" height="55" fill="#f23645"/>
<rect x="292" y="291" width="1" height="30" fill="#f23645"/>
<rect x="289" y="303" width="7" height="18" fill="#f23645"/>
<rect x="300" y="301" width="1" height="15" fill="#f23645"/>
<rect x="297" y="305" width="7" height="10" fill="#f23645"/>
<rect x="309" y="311" width="1" height="8" fill="#f23645"/>
<rect x="306" y="314" width="7" height="5" fill="#f23645"/>
<rect x="318" y="308" width="1" height="17" fill="#4caf50"/>
<rect x="315" y="314" width="7" height="5" fill="#4caf50"/>
<rect x="326" y="310" width="1" height="29" fill="#f23645"/>
<rect x="323" y="314" width="7" height="15" fill="#f23645"/>
<rect x="335" y="284" width="1" height="55" fill="#4caf50"/>
<rect x="332" y="295" width="7" height="34" fill="#4caf50"/>
<rect x="343" y="277" width="1" height="19" fill="#4caf50"/>
<rect x="340" y="279" width="7" height="17" fill="#4caf50"/>
<rect x="352" y="281" width="1" height="9" fill="#f23645"/>
<rect x="349" y="282" width="7" height="7" fill="#f23645"/>
<rect x="360" y="284" width="1" height="9" fill="#4caf50"/>
<rect x="357" y="287" width="7" height="1" fill="#4caf50"/>
<rect x="369" y="279" width="1" height="20" fill="#f23645"/>
<rect x="366" y="287" width="7" height="12" fill="#f23645"/>
<rect x="378" y="287" width="1" height="13" fill="#4caf50"/>
<rect x="375" y="297" width="7" height="1" fill="#4caf50"/>
<rect x="386" y="279" width="1" height="35" fill="#4caf50"/>
<rect x="383" y="281" width="7" height="17" fill="#4caf50"/>
<rect x="395" y="276" width="1" height="17" fill="#f23645"/>
<rect x="392" y="281" width="7" height="12" fill="#f23645"/>
<rect x="403" y="282" width="1" height="11" fill="#4caf50"/>
<rect x="400" y="282" width="7" height="9" fill="#4caf50"/>
<rect x="412" y="279" width="1" height="6" fill="#f23645"/>
<rect x="409" y="282" width="7" height="1" fill="#f23645"/>
<rect x="421" y="278" width="1" height="14" fill="#4caf50"/>
<rect x="418" y="281" width="7" height="3" fill="#4caf50"/>
<rect x="429" y="280" width="1" height="19" fill="#f23645"/>
<rect x="426" y="281" width="7" height="12" fill="#f23645"/>
<rect x="438" y="264" width="1" height="48" fill="#f23645"/>
<rect x="435" y="293" width="7" height="15" fill="#f23645"/>
<rect x="446" y="296" width="1" height="60" fill="#f23645"/>
<rect x="443" y="307" width="7" height="39" fill="#f23645"/>
<rect x="455" y="340" width="1" height="15" fill="#4caf50"/>
<rect x="452" y="344" width="7" height="5" fill="#4caf50"/>
<rect x="463" y="320" width="1" height="27" fill="#4caf50"/>
<rect x="460" y="325" width="7" height="20" fill="#4caf50"/>
<rect x="472" y="315" width="1" height="17" fill="#f23645"/>
<rect x="469" y="325" width="7" height="7" fill="#f23645"/>
<rect x="481" y="328" width="1" height="31" fill="#f23645"/>
<rect x="478" y="331" width="7" height="23" fill="#f23645"/>
<rect x="489" y="351" width="1" height="33" fill="#f23645"/>
<rect x="486" y="353" width="7" height="15" fill="#f23645"/>
<rect x="498" y="359" width="1" height="14" fill="#f23645"/>
<rect x="495" y="367" width="7" height="3" fill="#f23645"/>
<rect x="506" y="361" width="1" height="12" fill="#4caf50"/>
<rect x="503" y="367" width="7" height="3" fill="#4caf50"/>
<rect x="515" y="361" width="1" height="8" fill="#f23645"/>
<rect x="512" y="366" width="7" height="3" fill="#f23645"/>
<rect x="524" y="364" width="1" height="22" fill="#f23645"/>
<rect x="521" y="368" width="7" height="12" fill="#f23645"/>
<rect x="532" y="370" width="1" height="16" fill="#4caf50"/>
<rect x="529" y="379" width="7" height="1" fill="#4caf50"/>
<rect x="541" y="344" width="1" height="43" fill="#4caf50"/>
<rect x="538" y="374" width="7" height="6" fill="#4caf50"/>
<rect x="549" y="365" width="1" height="15" fill="#4caf50"/>
<rect x="546" y="369" width="7" height="6" fill="#4caf50"/>
<rect x="558" y="365" width="1" height="16" fill="#f23645"/>
<rect x="555" y="370" width="7" height="11" fill="#f23645"/>
<rect x="567" y="370" width="1" height="11" fill="#4caf50"/>
<rect x="564" y="375" width="7" height="6" fill="#4caf50"/>
<rect x="575" y="372" width="1" height="11" fill="#4caf50"/>
<rect x="572" y="375" width="7" height="1" fill="#4caf50"/>
<rect x="584" y="363" width="1" height="30" fill="#4caf50"/>
<rect x="581" y="371" width="7" height="5" fill="#4caf50"/>
<rect x="592" y="364" width="1" height="22" fill="#4caf50"/>
<rect x="589" y="365" width="7" height="7" fill="#4caf50"/>
<rect x="601" y="351" width="1" height="23" fill="#f23645"/>
<rect x="598" y="365" width="7" height="9" fill="#f23645"/>
<rect x="609" y="358" width="1" height="16" fill="#4caf50"/>
<rect x="606" y="362" width="7" height="9" fill="#4caf50"/>
<rect x="618" y="360" width="1" height="15" fill="#f23645"/>
<rect x="615" y="362" width="7" height="9" fill="#f23645"/>
<rect x="627" y="361" width="1" height="15" fill="#4caf50"/>
<rect x="624" y="364" width="7" height="7" fill="#4caf50"/>
<rect x="635" y="360" width="1" height="44" fill="#f23645"/>
<rect x="632" y="364" width="7" height="24" fill="#f23645"/>
<rect x="644" y="376" width="1" height="36" fill="#f23645"/>
<rect x="641" y="387" width="7" height="9" fill="#f23645"/>
<rect x="652" y="378" width="1" height="26" fill="#4caf50"/>
<rect x="649" y="388" width="7" height="8" fill="#4caf50"/>
<rect x="661" y="376" width="1" height="12" fill="#4caf50"/>
<rect x="658" y="381" width="7" height="5" fill="#4caf50"/>
<rect x="670" y="362" width="1" height="20" fill="#4caf50"/>
<rect x="667" y="365" width="7" height="17" fill="#4caf50"/>
<rect x="678" y="354" width="1" height="15" fill="#4caf50"/>
<rect x="675" y="363" width="7" height="3" fill="#4caf50"/>
<rect x="687" y="343" width="1" height="23" fill="#4caf50"/>
<rect x="684" y="363" width="7" height="1" fill="#4caf50"/>
<rect x="695" y="341" width="1" height="37" fill="#4caf50"/>
<rect x="692" y="356" width="7" height="7" fill="#4caf50"/>
<rect x="704" y="347" width="1" height="17" fill="#4caf50"/>
<rect x="701" y="352" width="7" height="5" fill="#4caf50"/>
<rect x="712" y="350" width="1" height="11" fill="#4caf50"/>
<rect x="709" y="353" width="7" height="3" fill="#4caf50"/>
<rect x="721" y="351" width="1" height="12" fill="#f23645"/>
<rect x="718" y="353" width="7" height="10" fill="#f23645"/>
<rect x="730" y="356" width="1" height="16" fill="#4caf50"/>
<rect x="727" y="357" width="7" height="6" fill="#4caf50"/>
<rect x="738" y="343" width="1" height="34" fill="#f23645"/>
<rect x="735" y="357" width="7" height="7" fill="#f23645"/>
<rect x="747" y="358" width="1" height="27" fill="#f23645"/>
<rect x="744" y="363" width="7" height="6" fill="#f23645"/>
<rect x="755" y="356" width="1" height="18" fill="#4caf50"/>
<rect x="752" y="362" width="7" height="7" fill="#4caf50"/>
<rect x="764" y="359" width="1" height="11" fill="#4caf50"/>
<rect x="761" y="361" width="7" height="5" fill="#4caf50"/>
<rect x="773" y="350" width="1" height="14" fill="#4caf50"/>
<rect x="770" y="350" width="7" height="12" fill="#4caf50"/>
<rect x="781" y="342" width="1" height="11" fill="#4caf50"/>
<rect x="778" y="345" width="7" height="7" fill="#4caf50"/>
<rect x="790" y="337" width="1" height="22" fill="#f23645"/>
<rect x="787" y="345" width="7" height="13" fill="#f23645"/>
<rect x="798" y="351" width="1" height="35" fill="#f23645"/>
<rect x="795" y="357" width="7" height="4" fill="#f23645"/>
<rect x="807" y="333" width="1" height="34" fill="#4caf50"/>
<rect x="804" y="337" width="7" height="24" fill="#4caf50"/>
<rect x="815" y="334" width="1" height="15" fill="#4caf50"/>
<rect x="812" y="340" width="7" height="5" fill="#4caf50"/>
<rect x="824" y="340" width="1" height="8" fill="#f23645"/>
<rect x="821" y="341" width="7" height="7" fill="#f23645"/>
<rect x="833" y="343" width="1" height="27" fill="#f23645"/>
<rect x="830" y="347" width="7" height="23" fill="#f23645"/>
<rect x="841" y="366" width="1" height="20" fill="#f23645"/>
<rect x="838" y="369" width="7" height="17" fill="#f23645"/>
<rect x="850" y="376" width="1" height="30" fill="#f23645"/>
<rect x="847" y="385" width="7" height="19" fill="#f23645"/>
<rect x="858" y="387" width="1" height="19" fill="#4caf50"/>
<rect x="855" y="394" width="7" height="10" fill="#4caf50"/>
<rect x="867" y="387" width="1" height="15" fill="#f23645"/>
<rect x="864" y="389" width="7" height="12" fill="#f23645"/>
<rect x="876" y="400" width="1" height="8" fill="#f23645"/>
<rect x="873" y="400" width="7" height="3" fill="#f23645"/>
<rect x="884" y="398" width="1" height="40" fill="#f23645"/>
<rect x="881" y="402" width="7" height="36" fill="#f23645"/>
<rect x="893" y="431" width="1" height="24" fill="#f23645"/>
<rect x="890" y="438" width="7" height="7" fill="#f23645"/>
<rect x="901" y="415" width="1" height="31" fill="#4caf50"/>
<rect x="898" y="433" width="7" height="12" fill="#4caf50"/>
<rect x="910" y="429" width="1" height="27" fill="#f23645"/>
<rect x="907" y="433" width="7" height="23" fill="#f23645"/>
<rect x="919" y="451" width="1" height="16" fill="#f23645"/>
<rect x="916" y="453" width="7" height="14" fill="#f23645"/>
<rect x="927" y="459" width="1" height="10" fill="#4caf50"/>
<rect x="924" y="463" width="7" height="4" fill="#4caf50"/>
<rect x="936" y="455" width="1" height="17" fill="#f23645"/>
<rect x="933" y="464" width="7" height="6" fill="#f23645"/>
<rect x="944" y="457" width="1" height="21" fill="#4caf50"/>
<rect x="941" y="469" width="7" height="1" fill="#4caf50"/>
<rect x="953" y="464" width="1" height="15" fill="#f23645"/>
<rect x="950" y="469" width="7" height="5" fill="#f23645"/>
<rect x="961" y="464" width="1" height="13" fill="#4caf50"/>
<rect x="958" y="465" width="7" height="8" fill="#4caf50"/>
<rect x="970" y="461" width="1" height="14" fill="#f23645"/>
<rect x="967" y="461" width="7" height="8" fill="#f23645"/>
<rect x="979" y="462" width="1" height="12" fill="#f23645"/>
<rect x="976" y="468" width="7" height="1" fill="#f23645"/>
<rect x="987" y="461" width="1" height="17" fill="#4caf50"/>
<rect x="984" y="461" width="7" height="8" fill="#4caf50"/>
<rect x="996" y="458" width="1" height="38" fill="#f23645"/>
<rect x="993" y="461" width="7" height="30" fill="#f23645"/>
<rect x="1004" y="471" width="1" height="32" fill="#4caf50"/>
<rect x="1001" y="475" width="7" height="16" fill="#4caf50"/>
<rect x="1013" y="467" width="1" height="11" fill="#4caf50"/>
<rect x="1010" y="473" width="7" height="4" fill="#4caf50"/>
<rect x="1022" y="468" width="1" height="16" fill="#f23645"/>
<rect x="1019" y="480" width="7" height="3" fill="#f23645"/>
<rect x="1030" y="470" width="1" height="17" fill="#4caf50"/>
<rect x="1027" y="470" width="7" height="13" fill="#4caf50"/>
<rect x="1039" y="446" width="1" height="27" fill="#4caf50"/>
<rect x="1036" y="456" width="7" height="15" fill="#4caf50"/>
<rect x="1047" y="442" width="1" height="22" fill="#f23645"/>
<rect x="1044" y="456" width="7" height="1" fill="#f23645"/>
<rect x="1056" y="445" width="1" height="36" fill="#4caf50"/>
<rect x="1053" y="452" width="7" height="5" fill="#4caf50"/>
<rect x="1064" y="444" width="1" height="17" fill="#f23645"/>
<rect x="1061" y="452" width="7" height="4" fill="#f23645"/>
<rect x="1073" y="447" width="1" height="13" fill="#f23645"/>
<rect x="1070" y="453" width="7" height="7" fill="#f23645"/>
<rect x="1082" y="453" width="1" height="7" fill="#4caf50"/>
<rect x="1079" y="457" width="7" height="3" fill="#4caf50"/>
<rect x="1090" y="451" width="1" height="14" fill="#f23645"/>
<rect x="1087" y="457" width="7" height="3" fill="#f23645"/>
<rect x="1099" y="434" width="1" height="27" fill="#4caf50"/>
<rect x="1096" y="439" width="7" height="21" fill="#4caf50"/>
<rect x="1107" y="434" width="1" height="30" fill="#f23645"/>
<rect x="1104" y="439" width="7" height="19" fill="#f23645"/>
<rect x="1116" y="443" width="1" height="17" fill="#4caf50"/>
<rect x="1113" y="446" width="7" height="12" fill="#4caf50"/>
<rect x="1125" y="444" width="1" height="7" fill="#4caf50"/>
<rect x="1122" y="447" width="7" height="1" fill="#4caf50"/>
<rect x="1133" y="438" width="1" height="10" fill="#4caf50"/>
<rect x="1130" y="441" width="7" height="7" fill="#4caf50"/>
<rect x="1142" y="432" width="1" height="12" fill="#4caf50"/>
<rect x="1139" y="440" width="7" height="2" fill="#4caf50"/>
<rect x="1150" y="430" width="1" height="25" fill="#f23645"/>
<rect x="1147" y="440" width="7" height="6" fill="#f23645"/>
<rect x="1159" y="415" width="1" height="36" fill="#4caf50"/>
<rect x="1156" y="421" width="7" height="25" fill="#4caf50"/>
<rect x="1167" y="413" width="1" height="15" fill="#4caf50"/>
<rect x="1164" y="417" width="7" height="5" fill="#4caf50"/>
<rect x="1176" y="420" width="1" height="16" fill="#f23645"/>
<rect x="1173" y="420" width="7" height="15" fill="#f23645"/>
<rect x="1185" y="424" width="1" height="14" fill="#4caf50"/>
<rect x="1182" y="426" width="7" height="9" fill="#4caf50"/>
<rect x="1193" y="420" width="1" height="22" fill="#4caf50"/>
<rect x="1190" y="421" width="7" height="6" fill="#4caf50"/>
<rect x="1202" y="400" width="1" height="24" fill="#4caf50"/>
<rect x="1199" y="402" width="7" height="20" fill="#4caf50"/>
<rect x="1210" y="393" width="1" height="28" fill="#4caf50"/>
<rect x="1207" y="401" width="7" height="1" fill="#4caf50"/>
<rect x="1219" y="393" width="1" height="22" fill="#f23645"/>
<rect x="1216" y="401" width="7" height="10" fill="#f23645"/>
<rect x="1228" y="392" width="1" height="13" fill="#4caf50"/>
<rect x="1225" y="394" width="7" height="5" fill="#4caf50"/>
<rect x="1236" y="362" width="1" height="33" fill="#4caf50"/>
<rect x="1233" y="371" width="7" height="24" fill="#4caf50"/>
<rect x="1245" y="350" width="1" height="26" fill="#4caf50"/>
<rect x="1242" y="362" width="7" height="10" fill="#4caf50"/>
<rect x="1253" y="323" width="1" height="55" fill="#4caf50"/>
<rect x="1250" y="340" width="7" height="23" fill="#4caf50"/>
<rect x="1262" y="340" width="1" height="56" fill="#f23645"/>
<rect x="1259" y="340" width="7" height="40" fill="#f23645"/>
<rect x="1271" y="366" width="1" height="20" fill="#4caf50"/>
<rect x="1268" y="367" width="7" height="13" fill="#4caf50"/>
<rect x="1279" y="364" width="1" height="13" fill="#f23645"/>
<rect x="1276" y="369" width="7" height="8" fill="#f23645"/>
<rect x="1288" y="370" width="1" height="10" fill="#f23645"/>
<rect x="1285" y="376" width="7" height="1" fill="#f23645"/>
<rect x="1296" y="370" width="1" height="18" fill="#4caf50"/>
<rect x="1293" y="372" width="7" height="5" fill="#4caf50"/>
<rect x="1305" y="354" width="1" height="25" fill="#4caf50"/>
<rect x="1302" y="369" width="7" height="4" fill="#4caf50"/>
<rect x="1313" y="342" width="1" height="42" fill="#4caf50"/>
<rect x="1310" y="349" width="7" height="21" fill="#4caf50"/>
<rect x="1322" y="321" width="1" height="29" fill="#4caf50"/>
<rect x="1319" y="324" width="7" height="26" fill="#4caf50"/>
<rect x="1331" y="313" width="1" height="15" fill="#4caf50"/>
<rect x="1328" y="318" width="7" height="9" fill="#4caf50"/>
<rect x="1339" y="318" width="1" height="10" fill="#f23645"/>
<rect x="1336" y="318" width="7" height="8" fill="#f23645"/>
<rect x="1348" y="311" width="1" height="16" fill="#4caf50"/>
<rect x="1345" y="324" width="7" height="1" fill="#4caf50"/>
<rect x="1356" y="324" width="1" height="21" fill="#f23645"/>
<rect x="1353" y="324" width="7" height="20" fill="#f23645"/>
<rect x="1365" y="305" width="1" height="44" fill="#4caf50"/>
<rect x="1362" y="306" width="7" height="38" fill="#4caf50"/>
<rect x="1374" y="275" width="1" height="33" fill="#4caf50"/>
<rect x="1371" y="276" width="7" height="31" fill="#4caf50"/>
<rect x="1382" y="270" width="1" height="11" fill="#4caf50"/>
<rect x="1379" y="273" width="7" height="7" fill="#4caf50"/>
<rect x="1391" y="266" width="1" height="12" fill="#4caf50"/>
<rect x="1388" y="269" width="7" height="5" fill="#4caf50"/>
<rect x="1399" y="247" width="1" height="23" fill="#4caf50"/>
<rect x="1396" y="257" width="7" height="13" fill="#4caf50"/>
<rect x="1408" y="254" width="1" height="29" fill="#f23645"/>
<rect x="1405" y="257" width="7" height="17" fill="#f23645"/>
<rect x="1416" y="260" width="1" height="26" fill="#4caf50"/>
<rect x="1413" y="267" width="7" height="7" fill="#4caf50"/>
<rect x="1425" y="259" width="1" height="23" fill="#f23645"/>
<rect x="1422" y="267" width="7" height="4" fill="#f23645"/>
<rect x="1434" y="263" width="1" height="12" fill="#4caf50"/>
<rect x="1431" y="264" width="7" height="10" fill="#4caf50"/>
<rect x="1442" y="259" width="1" height="9" fill="#f23645"/>
<rect x="1439" y="264" width="7" height="3" fill="#f23645"/>
<rect x="1451" y="256" width="1" height="15" fill="#4caf50"/>
<rect x="1448" y="261" width="7" height="6" fill="#4caf50"/>
<rect x="1459" y="246" width="1" height="23" fill="#4caf50"/>
<rect x="1456" y="258" width="7" height="4" fill="#4caf50"/>
<rect x="1468" y="228" width="1" height="34" fill="#4caf50"/>
<rect x="1465" y="233" width="7" height="26" fill="#4caf50"/>
<rect x="1477" y="214" width="1" height="19" fill="#4caf50"/>
<rect x="1474" y="220" width="7" height="13" fill="#4caf50"/>
<rect x="1485" y="216" width="1" height="36" fill="#f23645"/>
<rect x="1482" y="219" width="7" height="24" fill="#f23645"/>
<rect x="1494" y="236" width="1" height="12" fill="#f23645"/>
<rect x="1491" y="241" width="7" height="5" fill="#f23645"/>
<rect x="1502" y="241" width="1" height="28" fill="#f23645"/>
<rect x="1499" y="244" width="7" height="12" fill="#f23645"/>
<rect x="1511" y="251" width="1" height="17" fill="#f23645"/>
<rect x="1508" y="255" width="7" height="11" fill="#f23645"/>
<rect x="1519" y="240" width="1" height="27" fill="#4caf50"/>
<rect x="1516" y="263" width="7" height="3" fill="#4caf50"/>
<rect x="1528" y="255" width="1" height="13" fill="#4caf50"/>
<rect x="1525" y="255" width="7" height="10" fill="#4caf50"/>
<rect x="1537" y="253" width="1" height="9" fill="#4caf50"/>
<rect x="1534" y="255" width="7" height="3" fill="#4caf50"/>
<rect x="1545" y="255" width="1" height="14" fill="#f23645"/>
<rect x="1542" y="255" width="7" height="10" fill="#f23645"/>
<rect x="1554" y="248" width="1" height="18" fill="#4caf50"/>
<rect x="1551" y="260" width="7" height="5" fill="#4caf50"/>
<rect x="1562" y="251" width="1" height="31" fill="#f23645"/>
<rect x="1559" y="260" width="7" height="6" fill="#f23645"/>
<rect x="1571" y="237" width="1" height="36" fill="#4caf50"/>
<rect x="1568" y="240" width="7" height="26" fill="#4caf50"/>
<rect x="1580" y="238" width="1" height="17" fill="#f23645"/>
<rect x="1577" y="240" width="7" height="6" fill="#f23645"/>
<rect x="1588" y="237" width="1" height="16" fill="#4caf50"/>
<rect x="1585" y="240" width="7" height="7" fill="#4caf50"/>
<rect x="1597" y="237" width="1" height="16" fill="#f23645"/>
<rect x="1594" y="240" width="7" height="9" fill="#f23645"/>
<rect x="1605" y="238" width="1" height="17" fill="#4caf50"/>
<rect x="1602" y="243" width="7" height="6" fill="#4caf50"/>
<rect x="1614" y="241" width="1" height="25" fill="#f23645"/>
<rect x="1611" y="243" width="7" height="15" fill="#f23645"/>
<rect x="1623" y="251" width="1" height="19" fill="#f23645"/>
<rect x="1620" y="257" width="7" height="1" fill="#f23645"/>
<rect x="1631" y="249" width="1" height="16" fill="#4caf50"/>
<rect x="1628" y="252" width="7" height="6" fill="#4caf50"/>
<rect x="1640" y="242" width="1" height="15" fill="#4caf50"/>
<rect x="1637" y="246" width="7" height="11" fill="#4caf50"/>
<rect x="1648" y="232" width="1" height="15" fill="#4caf50"/>
<rect x="1645" y="235" width="7" height="12" fill="#4caf50"/>
<rect x="1657" y="231" width="1" height="8" fill="#f23645"/>
<rect x="1654" y="235" width="7" height="1" fill="#f23645"/>
</g>
<line x1="0" y1="235.5" x2="1747" y2="235.5" stroke="#f23645" stroke-width="1" stroke-dasharray="1 2" stroke-dashoffset="2"/>
<line x1="0" y1="252.5" x2="1747" y2="252.5" stroke="#4a4a4a" stroke-width="1" stroke-dasharray="1 2" stroke-dashoffset="2"/>
<g font-family="'Liberation Sans', sans-serif" font-size="12.3" fill="#131722"><text x="1756.5" y="83.50" textLength="41.5" lengthAdjust="spacingAndGlyphs">1.40500</text><text x="1756.5" y="135.10" textLength="41.5" lengthAdjust="spacingAndGlyphs">1.40000</text><text x="1756.5" y="187.25" textLength="41.5" lengthAdjust="spacingAndGlyphs">1.39500</text><text x="1756.5" y="291.35" textLength="41.5" lengthAdjust="spacingAndGlyphs">1.38500</text><text x="1756.5" y="343.40" textLength="41.5" lengthAdjust="spacingAndGlyphs">1.38000</text><text x="1756.5" y="395.65" textLength="41.5" lengthAdjust="spacingAndGlyphs">1.37500</text><text x="1756.5" y="448.35" textLength="41.5" lengthAdjust="spacingAndGlyphs">1.37000</text><text x="1756.5" y="500.25" textLength="41.5" lengthAdjust="spacingAndGlyphs">1.36500</text><text x="1756" y="563.30" textLength="29" lengthAdjust="spacingAndGlyphs">80.00</text><text x="1756" y="602.05" textLength="29" lengthAdjust="spacingAndGlyphs">60.00</text><text x="1756" y="641.30" textLength="29" lengthAdjust="spacingAndGlyphs">40.00</text><text x="1756" y="680.05" textLength="29" lengthAdjust="spacingAndGlyphs">20.00</text></g>
<g font-family="'Liberation Sans', sans-serif" font-size="12.3" fill="#131722"><text transform="translate(43.0 712) scale(0.97 1)" x="0" y="0" text-anchor="middle">Dec</text><text transform="translate(94.0 712) scale(0.87 1)" x="0" y="0" text-anchor="middle">2</text><text transform="translate(146.0 712) scale(0.87 1)" x="0" y="0" text-anchor="middle">3</text><text transform="translate(197.0 712) scale(0.87 1)" x="0" y="0" text-anchor="middle">4</text><text transform="translate(249.0 712) scale(0.87 1)" x="0" y="0" text-anchor="middle">5</text><text transform="translate(300.0 712) scale(0.87 1)" x="0" y="0" text-anchor="middle">8</text><text transform="translate(352.0 712) scale(0.87 1)" x="0" y="0" text-anchor="middle">9</text><text transform="translate(403.0 712) scale(0.87 1)" x="0" y="0" text-anchor="middle">10</text><text transform="translate(455.0 712) scale(0.87 1)" x="0" y="0" text-anchor="middle">11</text><text transform="translate(506.0 712) scale(0.87 1)" x="0" y="0" text-anchor="middle">12</text><text transform="translate(558.0 712) scale(0.87 1)" x="0" y="0" text-anchor="middle">15</text><text transform="translate(609.0 712) scale(0.87 1)" x="0" y="0" text-anchor="middle">16</text><text transform="translate(661.0 712) scale(0.87 1)" x="0" y="0" text-anchor="middle">17</text><text transform="translate(712.0 712) scale(0.87 1)" x="0" y="0" text-anchor="middle">18</text><text transform="translate(764.0 712) scale(0.87 1)" x="0" y="0" text-anchor="middle">19</text><text transform="translate(815.0 712) scale(0.87 1)" x="0" y="0" text-anchor="middle">22</text><text transform="translate(867.0 712) scale(0.87 1)" x="0" y="0" text-anchor="middle">23</text><text transform="translate(919.0 712) scale(0.87 1)" x="0" y="0" text-anchor="middle">24</text><text transform="translate(970.0 712) scale(0.87 1)" x="0" y="0" text-anchor="middle">26</text><text transform="translate(1022.0 712) scale(0.87 1)" x="0" y="0" text-anchor="middle">29</text><text transform="translate(1073.0 712) scale(0.87 1)" x="0" y="0" text-anchor="middle">30</text><text transform="translate(1125.0 712) scale(0.87 1)" x="0" y="0" text-anchor="middle">31</text><text transform="translate(1176.0 712) scale(0.97 1)" x="0" y="0" font-weight="bold" text-anchor="middle">2026</text><text transform="translate(1228.0 712) scale(0.87 1)" x="0" y="0" text-anchor="middle">5</text><text transform="translate(1279.0 712) scale(0.87 1)" x="0" y="0" text-anchor="middle">6</text><text transform="translate(1331.0 712) scale(0.87 1)" x="0" y="0" text-anchor="middle">7</text><text transform="translate(1382.0 712) scale(0.87 1)" x="0" y="0" text-anchor="middle">8</text><text transform="translate(1434.0 712) scale(0.87 1)" x="0" y="0" text-anchor="middle">9</text><text transform="translate(1485.0 712) scale(0.87 1)" x="0" y="0" text-anchor="middle">12</text><text transform="translate(1537.0 712) scale(0.87 1)" x="0" y="0" text-anchor="middle">13</text><text transform="translate(1588.0 712) scale(0.87 1)" x="0" y="0" text-anchor="middle">14</text><text transform="translate(1640.0 712) scale(0.87 1)" x="0" y="0" text-anchor="middle">15</text><text transform="translate(1691.0 712) scale(0.87 1)" x="0" y="0" text-anchor="middle">16</text></g>
<defs><clipPath id="cac"><circle cx="19.1" cy="18.6" r="6.1"/></clipPath><clipPath id="usc"><circle cx="13" cy="24.9" r="6"/></clipPath></defs>
<g clip-path="url(#cac)"><rect x="12" y="12" width="15" height="14" fill="#fff"/><rect x="12" y="12" width="4.1" height="14" fill="#e8383d"/><rect x="21.9" y="12" width="4.1" height="14" fill="#e8383d"/><path d="M19.2 15.6 L20.6 17.6 L21.4 17.2 L20.9 19.6 L19.2 20.4 L17.6 19.6 L17.1 17.2 L17.9 17.6 Z" fill="#e8383d"/></g>
<circle cx="13" cy="24.9" r="7.1" fill="#fff"/>
<g clip-path="url(#usc)"><rect x="6" y="18" width="14" height="14" fill="#fff"/><rect x="13" y="18.8" width="7" height="3" fill="#e8383d"/><rect x="13" y="23.9" width="7" height="2" fill="#e8383d"/><rect x="6" y="27.9" width="14" height="3.5" fill="#e8383d"/><rect x="6" y="18.5" width="8" height="7.4" fill="#2a74e6"/><g fill="#fff"><circle cx="8.4" cy="20.4" r="0.55"/><circle cx="8.4" cy="22.4" r="0.55"/><circle cx="8.4" cy="24.4" r="0.55"/><circle cx="10.4" cy="20.4" r="0.55"/><circle cx="10.4" cy="22.4" r="0.55"/><circle cx="10.4" cy="24.4" r="0.55"/><circle cx="12.4" cy="20.4" r="0.55"/><circle cx="12.4" cy="22.4" r="0.55"/><circle cx="12.4" cy="24.4" r="0.55"/></g></g>
<text x="28.83" y="27.70" font-family="'Liberation Sans', sans-serif" font-size="15.60" fill="#131722" textLength="29.56" lengthAdjust="spacingAndGlyphs">U.S.</text>
<text x="63.51" y="27.70" font-family="'Liberation Sans', sans-serif" font-size="15.60" fill="#131722" textLength="40.95" lengthAdjust="spacingAndGlyphs">Dollar</text>
<text x="112.50" y="27.70" font-family="'Liberation Sans', sans-serif" font-size="15.60" fill="#131722" textLength="4.10" lengthAdjust="spacingAndGlyphs">/</text>
<text x="124.22" y="27.70" font-family="'Liberation Sans', sans-serif" font-size="15.60" fill="#131722" textLength="65.78" lengthAdjust="spacingAndGlyphs">Canadian</text>
<text x="194.68" y="27.70" font-family="'Liberation Sans', sans-serif" font-size="15.60" fill="#131722" textLength="42.09" lengthAdjust="spacingAndGlyphs">Dollar</text>
<text x="239.61" y="27.70" font-family="'Liberation Sans', sans-serif" font-size="15.60" fill="#131722" textLength="6.99" lengthAdjust="spacingAndGlyphs">·</text>
<text x="249.15" y="27.70" font-family="'Liberation Sans', sans-serif" font-size="15.60" fill="#131722" textLength="17.05" lengthAdjust="spacingAndGlyphs">4h</text>
<text x="268.11" y="27.70" font-family="'Liberation Sans', sans-serif" font-size="15.60" fill="#131722" textLength="8.39" lengthAdjust="spacingAndGlyphs">·</text>
<text x="278.45" y="27.70" font-family="'Liberation Sans', sans-serif" font-size="15.60" fill="#131722" textLength="49.08" lengthAdjust="spacingAndGlyphs">OANDA</text>
<path d="M345 13 h11 v18 h-11 a9 9 0 0 1 0 -18 Z" fill="#dbf0eb"/>
<path d="M356 13 h11 a9 9 0 0 1 0 18 h-11 Z" fill="#fbdce6"/>
<circle cx="347" cy="22" r="4" fill="#089981"/>
<path d="M361.2 20.4 q1.3 -1.6 2.6 -0.5 t2.6 0.3 t2.3 -0.9 M361.2 24.2 q1.3 -1.6 2.6 -0.5 t2.6 0.3 t2.3 -0.9" fill="none" stroke="#e91e63" stroke-width="1.55" stroke-linecap="round"/>
<text x="383.64" y="26.70" font-family="'Liberation Sans', sans-serif" font-size="13.00" fill="#131722" textLength="9.12" lengthAdjust="spacingAndGlyphs">O</text>
<text x="394.35" y="26.70" font-family="'Liberation Sans', sans-serif" font-size="13.00" fill="#f23645" textLength="45.22" lengthAdjust="spacingAndGlyphs">1.39004</text>
<text x="445.35" y="26.70" font-family="'Liberation Sans', sans-serif" font-size="13.00" fill="#131722" textLength="8.40" lengthAdjust="spacingAndGlyphs">H</text>
<text x="455.35" y="26.70" font-family="'Liberation Sans', sans-serif" font-size="13.00" fill="#f23645" textLength="45.14" lengthAdjust="spacingAndGlyphs">1.39040</text>
<text x="506.40" y="26.70" font-family="'Liberation Sans', sans-serif" font-size="13.00" fill="#131722" textLength="6.81" lengthAdjust="spacingAndGlyphs">L</text>
<text x="514.76" y="26.70" font-family="'Liberation Sans', sans-serif" font-size="13.00" fill="#f23645" textLength="44.68" lengthAdjust="spacingAndGlyphs">1.38966</text>
<text x="565.78" y="26.70" font-family="'Liberation Sans', sans-serif" font-size="13.00" fill="#131722" textLength="7.41" lengthAdjust="spacingAndGlyphs">C</text>
<text x="575.36" y="26.70" font-family="'Liberation Sans', sans-serif" font-size="13.00" fill="#f23645" textLength="44.37" lengthAdjust="spacingAndGlyphs">1.39003</text>
<text x="626.60" y="26.70" font-family="'Liberation Sans', sans-serif" font-size="13.00" fill="#f23645" textLength="50.79" lengthAdjust="spacingAndGlyphs">−0.00001</text>
<text x="683.47" y="26.70" font-family="'Liberation Sans', sans-serif" font-size="13.00" fill="#f23645" textLength="48.37" lengthAdjust="spacingAndGlyphs">(−0.00%)</text>
<rect x="1" y="76" width="333" height="23.5" fill="#fff" fill-opacity="0.5"/>
<rect x="1" y="34" width="174" height="42" fill="#fff" fill-opacity="0.5"/>
<rect x="6.5" y="38.5" width="66" height="33" rx="4.5" fill="#fff" stroke="#f23645" stroke-width="1"/>
<rect x="104.5" y="38.5" width="66" height="33" rx="4.5" fill="#fff" stroke="#2962ff" stroke-width="1"/>
<text x="17.13" y="51.90" font-family="'Liberation Sans', sans-serif" font-size="12.40" fill="#f23645" textLength="38.97" lengthAdjust="spacingAndGlyphs" stroke="#f23645" stroke-width="0.25">1.3899</text>
<text x="59.6" y="50.0" font-family="'Liberation Sans', sans-serif" font-size="10.4" fill="#f23645" stroke="#f23645" stroke-width="0.25" text-anchor="middle">5</text>
<text x="27.56" y="65.80" font-family="'Liberation Sans', sans-serif" font-size="10.60" fill="#f23645" textLength="23.76" lengthAdjust="spacingAndGlyphs">SELL</text>
<text x="81.11" y="57.90" font-family="'Liberation Sans', sans-serif" font-size="10.00" fill="#131722" textLength="14.34" lengthAdjust="spacingAndGlyphs">1.6</text>
<text x="114.53" y="51.90" font-family="'Liberation Sans', sans-serif" font-size="12.40" fill="#2962ff" textLength="38.99" lengthAdjust="spacingAndGlyphs" stroke="#2962ff" stroke-width="0.25">1.3901</text>
<text x="157.6" y="50.0" font-family="'Liberation Sans', sans-serif" font-size="10.4" fill="#2962ff" stroke="#2962ff" stroke-width="0.25" text-anchor="middle">1</text>
<text x="126.58" y="65.80" font-family="'Liberation Sans', sans-serif" font-size="10.60" fill="#2962ff" textLength="20.54" lengthAdjust="spacingAndGlyphs">BUY</text>
<text x="6.61" y="92.60" font-family="'Liberation Sans', sans-serif" font-size="13.00" fill="#131722" textLength="115.40" lengthAdjust="spacingAndGlyphs">SMA 20/50/100/200</text>
<text x="130.15" y="92.60" font-family="'Liberation Sans', sans-serif" font-size="13.00" fill="#2962ff" textLength="45.20" lengthAdjust="spacingAndGlyphs">1.38843</text>
<text x="181.84" y="92.60" font-family="'Liberation Sans', sans-serif" font-size="13.00" fill="#ffbe6a" textLength="45.51" lengthAdjust="spacingAndGlyphs">1.38518</text>
<text x="233.13" y="92.60" font-family="'Liberation Sans', sans-serif" font-size="13.00" fill="#089981" textLength="45.90" lengthAdjust="spacingAndGlyphs">1.37795</text>
<text x="284.83" y="92.60" font-family="'Liberation Sans', sans-serif" font-size="13.00" fill="#ff1010" textLength="46.17" lengthAdjust="spacingAndGlyphs">1.38240</text>
<rect x="6.5" y="103.5" width="28" height="20" rx="3.5" fill="#fff" fill-opacity="0.8" stroke="#d9dbe0" stroke-width="1"/>
<path d="M16.8 115.5 L20.6 111.9 L24.4 115.5" fill="none" stroke="#131722" stroke-width="1.35"/>
<rect x="1751.5" y="10.5" width="57" height="25" rx="4" fill="#fff" stroke="#e3e3e3" stroke-width="1"/>
<text x="1754.88" y="27.00" font-family="'Liberation Sans', sans-serif" font-size="12.80" fill="#131722" textLength="21.82" lengthAdjust="spacingAndGlyphs">CAD</text>
<path d="M1799.3 22.2 L1801.5 24.4 L1803.8 22.2" fill="none" stroke="#131722" stroke-width="1.2"/>
<path d="M1698 199 H1747 V216 H1698 a2 2 0 0 1 -2 -2 V201 a2 2 0 0 1 2 -2 Z" fill="#f23645"/>
<text x="1700.29" y="211.90" font-family="'Liberation Sans', sans-serif" font-size="12.00" fill="#fff" textLength="43.13" lengthAdjust="spacingAndGlyphs" font-weight="bold">USDCAD</text>
<path d="M1748 199 H1806 a2 2 0 0 1 2 2 V241.6 a2 2 0 0 1 -2 2 H1748 Z" fill="#f23645"/>
<text x="1755.86" y="211.70" font-family="'Liberation Sans', sans-serif" font-size="12.00" fill="#fff" textLength="42.26" lengthAdjust="spacingAndGlyphs" font-weight="bold">1.39003</text>
<text x="1756.15" y="225.70" font-family="'Liberation Sans', sans-serif" font-size="12.00" fill="#fff" textLength="36.73" lengthAdjust="spacingAndGlyphs" font-weight="bold">−0.95%</text>
<text x="1755.94" y="239.50" font-family="'Liberation Sans', sans-serif" font-size="12.00" fill="#fff" textLength="46.18" lengthAdjust="spacingAndGlyphs" font-weight="bold" fill-opacity="0.82">02:04:55</text>
<path d="M1748 244.3 H1801.7 a2 2 0 0 1 2 2 V258.7 a2 2 0 0 1 -2 2 H1748 Z" fill="#4e4e4e"/>
<text x="1755.86" y="256.50" font-family="'Liberation Sans', sans-serif" font-size="12.00" fill="#fff" textLength="42.36" lengthAdjust="spacingAndGlyphs" font-weight="bold">1.38836</text>
<path d="M1666.86 531.08 A9.9 9.9 0 1 1 1660.72 524.94" fill="none" stroke="#9c27b0" stroke-width="1.4"/>
<circle cx="1664.4" cy="527.4" r="2.6" fill="#f23645"/>
<path d="M1660 529.6 L1654.4 534.5 L1660.8 534.4 L1655 539.4" fill="none" stroke="#9c27b0" stroke-width="1.5" stroke-linejoin="miter"/>
<text x="6.51" y="568.60" font-family="'Liberation Sans', sans-serif" font-size="12.80" fill="#131722" textLength="18.09" lengthAdjust="spacingAndGlyphs">RSI</text>
<text x="32.14" y="568.60" font-family="'Liberation Sans', sans-serif" font-size="12.80" fill="#7e57c2" textLength="32.57" lengthAdjust="spacingAndGlyphs">62.30</text>
<text x="70.38" y="568.60" font-family="'Liberation Sans', sans-serif" font-size="12.80" fill="#f5c518" textLength="32.29" lengthAdjust="spacingAndGlyphs">58.94</text>
<path d="M10 665 H22 V680 H16 V671 H10 Z" fill="#131313"/>
<circle cx="27.2" cy="668" r="2.9" fill="#131313"/>
<path d="M33.6 665 H39.8 L34 680 H27 Z" fill="#131313"/>
<text x="47.07" y="680.00" font-family="'Liberation Sans', sans-serif" font-size="20.60" fill="#131313" textLength="120.59" lengthAdjust="spacingAndGlyphs" font-weight="bold">TradingView</text>
<path d="M1773.3 708.4 L1776.6 702.4 H1784.4 L1787.7 708.4 L1784.4 714.4 H1776.6 Z" fill="none" stroke="#131722" stroke-width="1.1" stroke-linejoin="round"/>
<circle cx="1780.5" cy="708.4" r="1.9" fill="none" stroke="#131722" stroke-width="1.1"/>
</svg>
</body></html>
